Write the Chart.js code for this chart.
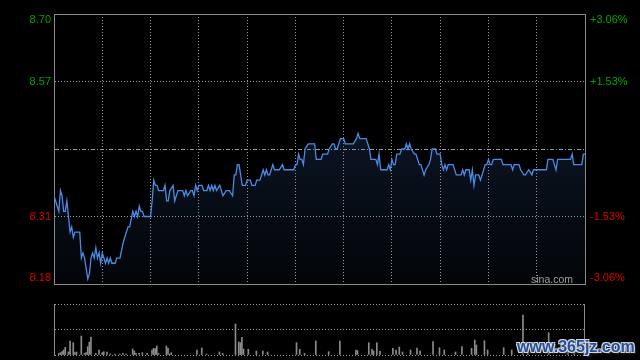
<!DOCTYPE html>
<html>
<head>
<meta charset="utf-8">
<script src="https://cdn.jsdelivr.net/npm/chart.js@4.4.1/dist/chart.umd.min.js"></script>
<style>
html, body { margin: 0; padding: 0; background: #000; width: 640px; height: 360px; overflow: hidden; }
#price { position: absolute; left: 0; top: 0; }
#vol { position: absolute; left: 0; top: 290px; }
#mark {
  position: absolute; left: 517px; top: 338px; line-height: 16px;
  font: bold 16px "Liberation Sans", Arial, sans-serif; color: #1f4f9e;
  text-shadow: 1px 1px 0 #d8d8d8, -1px -1px 0 #d8d8d8, 1px -1px 0 #d8d8d8, -1px 1px 0 #d8d8d8, 2px 2px 2px #333;
}
</style>
</head>
<body>
<canvas id="price" width="640" height="300"></canvas>
<canvas id="vol" width="640" height="70"></canvas>
<div id="mark">www.365jz.com</div>
<script>
// previous close and axis labels
var prevClose = 8.44;
var priceTicks = [8.18, 8.31, 8.44, 8.57, 8.70];
var pctTicks = [-3.06, -1.53, 0, 1.53, 3.06];
var timeTicks = [0, 30, 60, 90, 120, 150, 180, 210, 240, 270, 300, 330];
var volTicks = [0, 255, 510];

// intraday price, minute from open
var minutes = [0,3,4,5,6,7,8,9,10,11,12,13,16,17,18,19,20,21,22,23,24,25,26,27,28,29,30,31,32,33,34,35,36,38,39,41,43,44,46,47,
  49,50,51,52,53,54,55,56,60,61,62,63,64,65,68,69,70,71,72,74,75,76,77,80,81,82,83,85,86,87,88,89,90,92,93,95,96,97,98,99,100,101,
  103,104,105,107,109,111,112,113,114,115,116,117,119,120,122,123,125,126,128,130,131,132,133,134,136,137,140,142,143,149,150,151,
  152,153,154,155,156,158,162,163,166,167,170,171,173,174,175,176,178,180,181,186,188,189,190,194,196,197,200,201,202,203,207,208,
  209,210,211,212,213,215,216,218,219,220,221,222,224,225,227,228,230,231,233,234,235,237,238,240,241,242,243,244,245,248,250,253,
  254,255,256,258,259,260,261,262,264,265,266,268,269,270,271,272,273,278,279,284,285,286,289,290,292,293,295,297,298,306,307,310,
  311,312,313,321,322,323,328,329,330];
var prices = [8.35,8.32,8.36,8.35,8.32,8.32,8.34,8.31,8.28,8.29,8.27,8.28,8.28,8.23,8.24,8.23,8.21,8.19,8.20,8.23,8.24,8.23,8.25,8.23,8.24,8.22,8.24,8.23,8.22,8.23,8.22,8.23,8.22,8.22,8.23,8.23,8.26,8.27,8.29,8.29,
  8.32,8.31,8.32,8.31,8.33,8.32,8.32,8.31,8.31,8.34,8.38,8.37,8.37,8.36,8.36,8.37,8.34,8.34,8.36,8.37,8.34,8.35,8.36,8.36,8.35,8.36,8.35,8.36,8.36,8.35,8.37,8.36,8.37,8.37,8.36,8.36,8.37,8.36,8.37,8.36,8.37,8.36,
  8.37,8.36,8.35,8.36,8.36,8.35,8.39,8.39,8.41,8.41,8.39,8.37,8.37,8.38,8.38,8.37,8.37,8.38,8.38,8.40,8.39,8.40,8.39,8.39,8.41,8.40,8.40,8.41,8.40,8.40,8.41,8.41,
  8.43,8.42,8.42,8.41,8.44,8.45,8.45,8.42,8.42,8.43,8.43,8.44,8.45,8.45,8.44,8.44,8.46,8.46,8.45,8.45,8.46,8.47,8.46,8.46,8.44,8.42,8.42,8.41,8.43,8.40,8.40,8.41,
  8.40,8.42,8.41,8.41,8.43,8.43,8.44,8.44,8.45,8.44,8.45,8.44,8.43,8.43,8.41,8.41,8.39,8.40,8.41,8.42,8.44,8.44,8.43,8.43,8.41,8.40,8.41,8.40,8.41,8.41,8.39,8.39,
  8.40,8.39,8.40,8.40,8.38,8.40,8.37,8.39,8.39,8.38,8.39,8.41,8.41,8.42,8.41,8.41,8.42,8.42,8.41,8.41,8.40,8.41,8.41,8.40,8.39,8.39,8.40,8.39,8.40,8.40,8.42,8.42,
  8.41,8.40,8.42,8.42,8.43,8.41,8.41,8.43,8.43];

// volume bars (thousand shares)
var volMinutes = [0,3,4,5,6,7,9,10,12,13,14,17,19,20,21,22,23,26,28,30,31,33,35,38,41,43,45,49,50,51,53,55,58,61,62,63,64,65,70,71,72,73,
  89,92,95,103,105,113,115,116,117,118,121,126,130,133,151,153,156,163,171,178,188,189,196,198,199,201,203,211,213,215,217,222,226,228,
  236,240,243,250,254,260,262,263,268,270,280,285,292,295,308,320,324];
var volumes = [67,17,23,33,50,77,30,140,123,23,30,190,17,23,83,130,180,17,50,23,33,30,10,10,10,17,10,60,40,17,17,23,17,50,67,63,90,17,90,67,10,23,
  50,70,10,30,17,310,130,123,177,60,57,40,40,30,123,57,17,140,33,140,50,43,123,57,40,123,37,67,50,80,30,50,70,40,
  133,73,50,30,83,67,150,100,143,50,73,50,400,57,223,117,100];

var upColor = '#00a400';
var downColor = '#dd0000';
var gridColor = '#9a9a9a';
var frameColor = '#8a8a8a';
var labelFont = '11px "Liberation Sans", Arial, sans-serif';

function setTicks(list) {
  return function(scale) { scale.ticks = list.map(function(v) { return { value: v }; }); };
}
function fixWidth(w) { return function(scale) { scale.width = w; }; }
function fixHeight(h) { return function(scale) { scale.height = h; }; }

var sideLabels = {
  id: 'sideLabels',
  afterDraw: function(chart) {
    var ctx = chart.ctx, a = chart.chartArea;
    var yl = chart.scales.y, yr = chart.scales.yPct;
    function inset(py) {
      if (py - a.top < 6) return a.top + 6;
      if (a.bottom - py < 6) return a.bottom - 6;
      return py;
    }
    ctx.save();
    ctx.font = labelFont;
    ctx.textBaseline = 'middle';
    ctx.textAlign = 'right';
    priceTicks.forEach(function(v) {
      if (v === prevClose) return;
      ctx.fillStyle = v > prevClose ? upColor : downColor;
      ctx.fillText(v.toFixed(2), a.left - 3, inset(yl.getPixelForValue(v)));
    });
    ctx.textAlign = 'left';
    pctTicks.forEach(function(v) {
      if (v === 0) return;
      ctx.fillStyle = v > 0 ? upColor : downColor;
      ctx.fillText((v > 0 ? '+' : '') + v.toFixed(2) + '%', a.right + 5, inset(yr.getPixelForValue(v)));
    });
    ctx.fillStyle = '#a0a0a0';
    ctx.font = '10.5px "Liberation Sans", Arial, sans-serif';
    ctx.textAlign = 'right';
    ctx.textBaseline = 'alphabetic';
    ctx.fillText('sina.com', a.right - 12, a.bottom - 1);
    ctx.restore();
  }
};

new Chart(document.getElementById('price'), {
  type: 'line',
  data: {
    datasets: [{
      data: minutes.map(function(m, i) { return { x: m, y: prices[i] }; }),
      borderColor: '#4a8be6',
      borderWidth: 1.3,
      pointRadius: 0,
      tension: 0,
      fill: 'start',
      backgroundColor: function(c) {
        var a = c.chart.chartArea;
        if (!a) return 'rgba(0,0,0,0)';
        var g = c.chart.ctx.createLinearGradient(0, a.top, 0, a.bottom);
        g.addColorStop(0, 'rgba(60,110,190,0.30)');
        g.addColorStop(1, 'rgba(60,110,190,0.04)');
        return g;
      }
    }]
  },
  options: {
    responsive: false,
    animation: false,
    events: [],
    layout: { padding: { top: 14, bottom: 16, left: 0, right: 0 } },
    plugins: { legend: { display: false }, tooltip: { enabled: false } },
    scales: {
      x: {
        type: 'linear', position: 'bottom', min: 0, max: 330,
        afterBuildTicks: setTicks(timeTicks), afterFit: fixHeight(0),
        ticks: { display: false },
        grid: { color: gridColor, drawTicks: false },
        border: { color: frameColor, dash: [1, 2] }
      },
      xTop: {
        type: 'linear', position: 'top', min: 0, max: 330,
        afterFit: fixHeight(0),
        ticks: { display: false },
        grid: { display: false, drawTicks: false },
        border: { color: frameColor }
      },
      y: {
        position: 'left', min: 8.18, max: 8.70,
        afterBuildTicks: setTicks(priceTicks), afterFit: fixWidth(54),
        ticks: { display: false },
        grid: { color: gridColor, drawTicks: false },
        border: {
          color: frameColor,
          dash: function(c) {
            return c.tick && Math.abs(c.tick.value - prevClose) < 1e-6 ? [4, 2, 1, 2] : [1, 2];
          }
        }
      },
      yPct: {
        position: 'right', min: -3.06, max: 3.06,
        afterFit: fixWidth(55),
        ticks: { display: false },
        grid: { display: false, drawTicks: false },
        border: { color: frameColor }
      }
    }
  },
  plugins: [sideLabels]
});

new Chart(document.getElementById('vol'), {
  type: 'bar',
  data: {
    datasets: [{
      data: volMinutes.map(function(m, i) { return { x: m, y: volumes[i] }; }),
      backgroundColor: '#8c8c8c',
      barThickness: 1,
      borderWidth: 0
    }]
  },
  options: {
    responsive: false,
    animation: false,
    events: [],
    layout: { padding: { top: 14, bottom: 5, left: 0, right: 0 } },
    plugins: { legend: { display: false }, tooltip: { enabled: false } },
    scales: {
      x: { type: 'linear', min: 0, max: 330, offset: false, display: false },
      y: {
        position: 'left', min: 0, max: 510,
        afterBuildTicks: setTicks(volTicks), afterFit: fixWidth(54),
        ticks: { display: false },
        grid: { color: gridColor, drawTicks: false },
        border: { color: frameColor, dash: [1, 2] }
      },
      yR: {
        position: 'right', min: 0, max: 510,
        afterFit: fixWidth(56),
        ticks: { display: false },
        grid: { display: false, drawTicks: false },
        border: { color: frameColor }
      }
    }
  }
});
</script>
</body>
</html>
